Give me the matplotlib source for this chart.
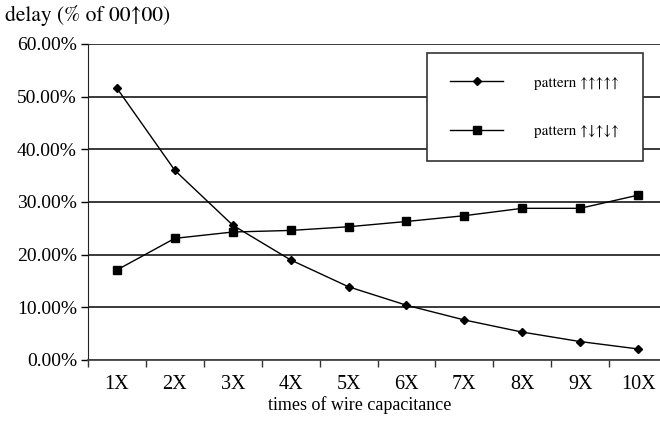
import matplotlib
matplotlib.use("Agg")
import matplotlib.pyplot as plt
from matplotlib.ticker import FixedLocator, FuncFormatter, NullFormatter

plt.rcParams["font.family"] = ["Liberation Serif", "DejaVu Serif"]

categories = ["1X", "2X", "3X", "4X", "5X", "6X", "7X", "8X", "9X", "10X"]
pattern_same = [51.6, 36.0, 25.6, 19.0, 13.9, 10.4, 7.6, 5.3, 3.5, 2.1]
pattern_alt = [17.1, 23.1, 24.3, 24.6, 25.3, 26.3, 27.4, 28.8, 28.8, 31.3]
label_same = "pattern \u2191\u2191\u2191\u2191\u2191"
label_alt = "pattern \u2191\u2193\u2191\u2193\u2191"
y_ticks = [0, 10, 20, 30, 40, 50, 60]

# STIX ships with matplotlib and has tall Times-style arrows
arrow_font = ["STIXGeneral", "DejaVu Serif"]

fig = plt.figure(figsize=(6.6, 4.21), dpi=100)
# axes runs a bit past the right edge of the canvas, like the original
ax = fig.add_axes([88 / 660, 61 / 421, 579 / 660, 316 / 421])

x = list(range(1, len(categories) + 1))
ax.plot(x, pattern_same, color="black", lw=1.0, marker="D", ms=3.8,
        label=label_same, zorder=3)
ax.plot(x, pattern_alt, color="black", lw=1.0, marker="s", ms=5.5,
        label=label_alt, zorder=3)

ax.set_xlim(0.5, len(categories) + 0.5)
ax.set_ylim(0, 60)

ax.yaxis.set_major_locator(FixedLocator(y_ticks))
ax.yaxis.set_major_formatter(FuncFormatter(lambda v, p: f"{v:.2f}%"))
ax.grid(axis="y", color="#2a2a2a", lw=1.3)
ax.set_axisbelow(True)

# category labels centred, tick marks between categories
ax.xaxis.set_major_locator(FixedLocator([i + 0.5 for i in range(len(categories) + 1)]))
ax.xaxis.set_major_formatter(NullFormatter())
ax.set_xticks(x, categories, minor=True)
ax.tick_params(axis="x", which="minor", length=0, pad=11, labelsize=14.5)
ax.tick_params(axis="x", which="major", length=5, width=1, color="#333333")
ax.tick_params(axis="y", length=5, width=1, labelsize=14, pad=3)

for side in ["top", "right"]:
    ax.spines[side].set_visible(False)
ax.spines["left"].set_color("#222222")
ax.spines["bottom"].set_color("#444444")
ax.spines["bottom"].set_linewidth(1.3)

ax.set_xlabel("times of wire capacitance", fontsize=13)
ax.xaxis.set_label_coords((360 - 88) / 579, -0.115)

fig.text(5 / 660, 1 - 15 / 421, "delay (% of 00\u219100)", fontsize=15.5,
         family=arrow_font, ha="left", va="center")

leg = ax.legend(loc="upper left", bbox_to_anchor=(0.5855, 0.642, 0.373, 0.3295),
                mode="expand", prop={"family": arrow_font, "size": 11},
                frameon=True, fancybox=False,
                handlelength=3.5, handletextpad=2.0, labelspacing=2.3,
                borderpad=1.5, borderaxespad=0)
leg.get_frame().set_edgecolor("#333333")
leg.get_frame().set_linewidth(1.2)
leg.get_frame().set_alpha(1)

fig.savefig("out.png", dpi=100)
